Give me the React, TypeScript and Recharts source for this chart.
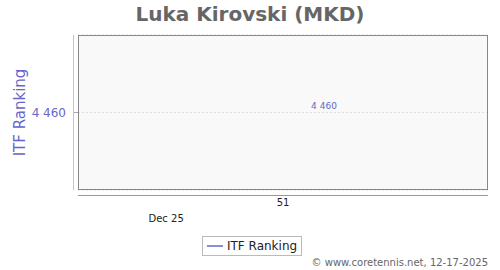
import React from 'react';
import { LineChart, Line, XAxis, YAxis, CartesianGrid, LabelList } from 'recharts';

const title = 'Luka Kirovski (MKD)';
const seriesName = 'ITF Ranking';
const positions = [60];
const rankings = [4460];
const weekTicks = [50];
const weekLabels = ['51'];
const monthTicks = [21.5];
const monthLabels = ['Dec 25'];
const yTicks = [4460];
const credit = '\u00a9 www.coretennis.net, 12-17-2025';

const data = positions.map((x, i) => ({ x, rank: rankings[i] }));
const FONT = '"DejaVu Sans", Verdana, sans-serif';
const BLUE = '#6666cc';

const fmt = (v: number) => String(v).replace(/\B(?=(\d{3})+(?!\d))/g, ' ');

const NoDot = () => <g />;

export default function App() {
  return (
    <div style={{ position: 'absolute', left: 0, top: 0, width: 500, height: 270, background: '#fff', fontFamily: FONT }}>
      <div style={{ position: 'absolute', left: 0, top: 1, width: 500, textAlign: 'center', fontSize: 20, fontWeight: 'bold', color: '#666', lineHeight: '26px' }}>{title}</div>
      <LineChart width={500} height={270} data={data} margin={{ top: 35, right: 12, bottom: 50, left: 0 }}>
        <CartesianGrid horizontal vertical={false} fill="#f9f9f9" stroke="#ddd" strokeDasharray="2 2" />
        <XAxis xAxisId="m" dataKey="x" type="number" domain={[0, 100]} ticks={monthTicks} tickFormatter={(v: number) => monthLabels[monthTicks.indexOf(v)] ?? ''} axisLine={false} tickLine={false} tickSize={0} tickMargin={25} height={1} tick={{ fontSize: 10, fill: '#222', fontFamily: FONT }} />
        <XAxis xAxisId="w" dataKey="x" type="number" domain={[0, 100]} ticks={weekTicks} tickFormatter={(v: number) => weekLabels[weekTicks.indexOf(v)] ?? ''} axisLine={false} tickLine={false} tickSize={0} tickMargin={8} height={29} tick={{ fontSize: 10, fill: '#222', fontFamily: FONT }} />
        <YAxis dataKey="rank" type="number" domain={[4459, 4461]} ticks={yTicks} tickFormatter={fmt} axisLine={false} tickLine={{ stroke: '#aaa' }} tickSize={5} tickMargin={7} width={78} tick={{ fontSize: 12, fill: BLUE, fontFamily: FONT }}
          label={{ value: seriesName, angle: -90, position: 'insideLeft', offset: 20, style: { fontSize: 15, fill: BLUE, fontFamily: FONT, textAnchor: 'middle' } }} />
        <Line xAxisId="w" dataKey="rank" name={seriesName} stroke={BLUE} strokeWidth={1.5} dot={NoDot} activeDot={false} isAnimationActive={false}>
          <LabelList dataKey="rank" position="top" offset={4} formatter={(v: number) => fmt(v)} style={{ fontSize: 9, fill: BLUE, fontFamily: FONT }} />
        </Line>
      </LineChart>
      <svg width={500} height={270} style={{ position: 'absolute', left: 0, top: 0, pointerEvents: 'none' }}>
        <rect x={78.5} y={35.5} width={409} height={154} fill="none" stroke="#888" strokeWidth={1} />
        <line x1={73.5} y1={35} x2={73.5} y2={190} stroke="#c0c0e8" strokeWidth={1} />
        <line x1={78} y1={195.5} x2={488} y2={195.5} stroke="#999" strokeWidth={1} />
      </svg>
      <div style={{ position: 'absolute', left: 202, top: 236, border: '1px solid #bbb', background: '#fff', padding: '1px 4px', display: 'inline-flex', alignItems: 'center', fontSize: 12, color: '#222', lineHeight: '16px' }}>
        <svg width={16} height={10} style={{ marginRight: 4 }}><line x1={0} y1={5} x2={16} y2={5} stroke={BLUE} strokeWidth={1.5} /></svg>
        {seriesName}
      </div>
      <div style={{ position: 'absolute', right: 12, top: 257, fontSize: 10, color: '#666' }}>{credit}</div>
    </div>
  );
}
